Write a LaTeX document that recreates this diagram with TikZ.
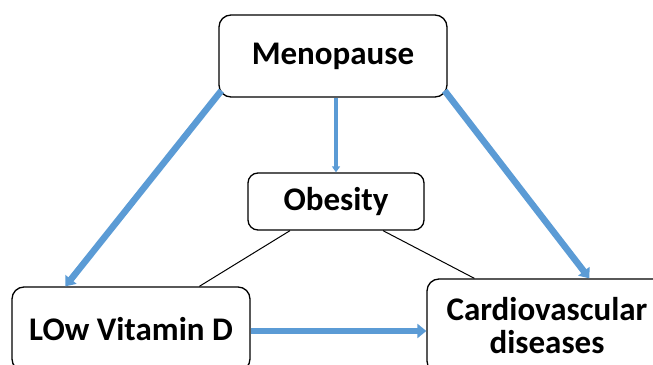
\documentclass[tikz,border=0pt]{standalone}
\usepackage{fontspec}
\setmainfont{Carlito}
\usetikzlibrary{arrows.meta,calc}
\definecolor{arrblue}{HTML}{5B9BD5}
\begin{document}
\begin{tikzpicture}[x=1pt,y=1pt,
  box/.style={draw=black,line width=1.3pt,rounded corners=12pt,fill=white,font=\bfseries\fontsize{33}{34}\selectfont,align=center,inner sep=0pt},
  bigarrow/.style={draw=arrblue,line width=6.5pt,-{Triangle[width=14pt,length=9pt]}},
  smallarrow/.style={draw=arrblue,line width=3.5pt,-{Triangle[width=8pt,length=6pt]}},
  link/.style={draw=black,line width=1pt}]
\useasboundingbox (0,0) rectangle (653,364);
\clip (0,0) rectangle (653,364);
\node[box,minimum width=228pt,minimum height=82pt] (meno) at (333,308) {Menopause};
\node[box,minimum width=176pt,minimum height=57pt,rounded corners=10pt] (obes) at (336,162.5) {Obesity};
\node[box,minimum width=238pt,minimum height=84pt] (low) at (131,35) {LOw Vitamin D};
\node[box,minimum width=240pt,minimum height=94pt] (cardio) at (547,38) {Cardiovascular\\[-1pt]diseases};
\draw[bigarrow] ($(meno.south west)+(3,7)$) -- ($(low.north west)+(54,0)$);
\draw[bigarrow] ($(meno.south east)+(-3,7)$) -- ($(cardio.north west)+(163,0)$);
\draw[smallarrow] (meno.south -| obes.north) -- (obes.north);
\draw[bigarrow] ($(low.east)+(0,-2)$) -- ($(cardio.west |- low.east)+(0,-2)$);
\draw[link] ($(obes.south)+(-46,0)$) -- ($(low.north west)+(188,0)$);
\draw[link] ($(obes.south)+(47,0)$) -- ($(cardio.north west)+(48,0)$);
\end{tikzpicture}
\end{document}
